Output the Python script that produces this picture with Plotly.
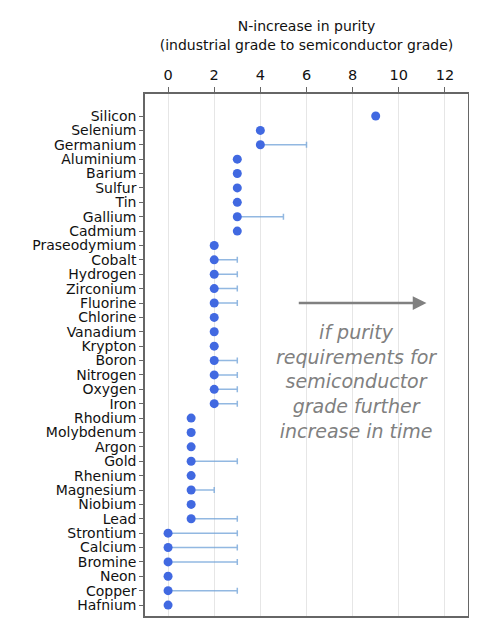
import plotly.graph_objects as go

# elements, top to bottom
elements = ['Silicon', 'Selenium', 'Germanium', 'Aluminium', 'Barium', 'Sulfur', 'Tin',
            'Gallium', 'Cadmium', 'Praseodymium', 'Cobalt', 'Hydrogen', 'Zirconium',
            'Fluorine', 'Chlorine', 'Vanadium', 'Krypton', 'Boron', 'Nitrogen', 'Oxygen',
            'Iron', 'Rhodium', 'Molybdenum', 'Argon', 'Gold', 'Rhenium', 'Magnesium',
            'Niobium', 'Lead', 'Strontium', 'Calcium', 'Bromine', 'Neon', 'Copper', 'Hafnium']

# current N-increase
n_increase = [9, 4, 4, 3, 3, 3, 3, 3, 3, 2, 2, 2, 2, 2, 2, 2, 2, 2, 2, 2, 2,
              1, 1, 1, 1, 1, 1, 1, 1, 0, 0, 0, 0, 0, 0]

# possible future value (None = no bar)
n_future = [None, None, 6, None, None, None, None, 5, None, None, 3, 3, 3, 3, None, None, None,
            3, 3, 3, 3, None, None, None, 3, None, 2, None, 3, 3, 3, 3, None, 3, None]

err_plus = [(f - v) if f is not None else 0 for v, f in zip(n_increase, n_future)]
err_minus = [0] * len(elements)

font = 'DejaVu Sans'

fig = go.Figure()

fig.add_trace(go.Scatter(
    x=n_increase, y=elements,
    mode='markers',
    marker=dict(color='#4169E1', size=9),
    error_x=dict(type='data', symmetric=False, array=err_plus, arrayminus=err_minus,
                 color='rgba(110,160,215,0.75)', thickness=1.5, width=3),
    showlegend=False,
))

# arrow
fig.add_annotation(
    x=11.2, y='Fluorine', xref='x', yref='y',
    ax=5.6, ay=0, axref='x', ayref='pixel',
    text='', showarrow=True,
    arrowhead=2, arrowsize=1.1, arrowwidth=2.5, arrowcolor='#808080',
)

fig.add_annotation(
    x=0.656, y=0.45, xref='paper', yref='paper',
    text='<i>if purity<br>requirements for<br>semiconductor<br>grade further<br>increase in time</i>',
    showarrow=False, align='center',
    font=dict(family=font, size=19, color='#808080'),
)

# the page body adds an 8px offset, so the figure is a bit smaller
fig.update_layout(
    width=469, height=613,
    margin=dict(l=137, r=9, t=86, b=5),
    plot_bgcolor='white', paper_bgcolor='white',
    font=dict(family=font, size=14, color='#111111'),
)

fig.update_xaxes(
    side='top', range=[-1, 13], dtick=2, tick0=0, automargin=False,
    title=dict(text='N-increase in purity<br>(industrial grade to semiconductor grade)',
               font=dict(size=14), standoff=14),
    showgrid=True, gridcolor='#e6e6e6', gridwidth=1, zeroline=False,
    ticks='outside', ticklen=5, tickcolor='#666666', ticklabelstandoff=1,
    tickfont=dict(size=14.5),
    showline=True, linecolor='#666666', linewidth=1.5, mirror=True,
)
fig.update_yaxes(
    type='category', range=[34.76, -1.53], automargin=False,
    tickmode='array', tickvals=elements, ticktext=elements,
    showgrid=False, zeroline=False,
    ticks='outside', ticklen=4, tickcolor='#666666', ticklabelstandoff=0,
    showline=True, linecolor='#666666', linewidth=1.5, mirror=True,
)

fig.write_html('out.html')
